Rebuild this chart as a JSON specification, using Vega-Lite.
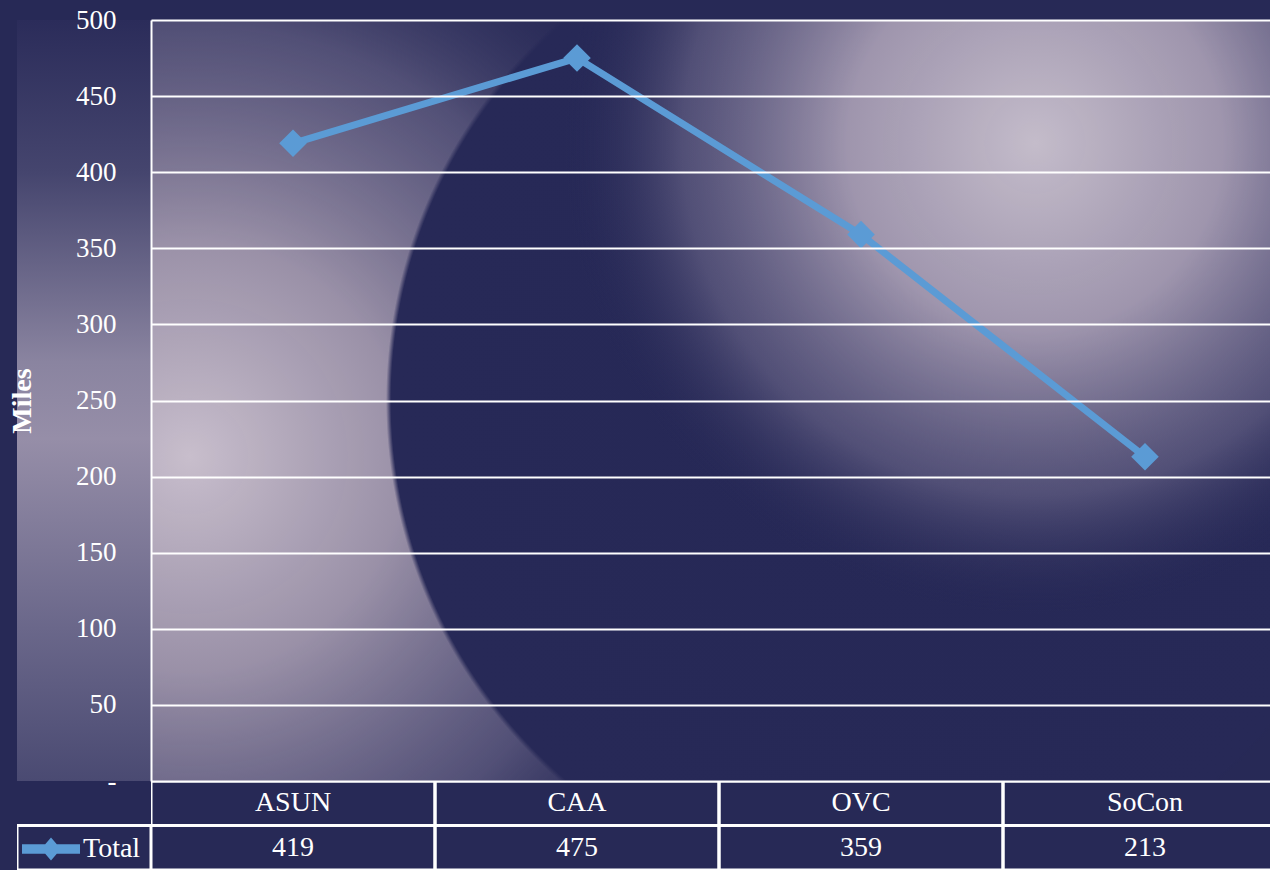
{
  "$schema": "https://vega.github.io/schema/vega-lite/v6.json",
  "background": "#272956",
  "padding": {"left": 8, "top": 6, "right": 0, "bottom": 0},
  "config": {
    "font": "Liberation Serif",
    "view": {"stroke": null},
    "concat": {"spacing": 0}
  },
  "datasets": {
    "miles": [
      {"Conference": "ASUN", "Total": 419},
      {"Conference": "CAA", "Total": 475},
      {"Conference": "OVC", "Total": 359},
      {"Conference": "SoCon", "Total": 213}
    ],
    "deco": [{"layer": "background"}]
  },
  "columns": 2,
  "spacing": 0,
  "bounds": "flush",
  "concat": [
    {
      "width": 134,
      "height": 761,
      "data": {"name": "deco"},
      "mark": {
        "type": "rect",
        "fill": {
          "gradient": "linear", "x1": 0, "y1": 0, "x2": 0, "y2": 1,
          "stops": [
            {"offset": 0, "color": "#2b2c5a"},
            {"offset": 0.2, "color": "#45456e"},
            {"offset": 0.45, "color": "#8a84a0"},
            {"offset": 0.55, "color": "#968ea8"},
            {"offset": 0.8, "color": "#6a678a"},
            {"offset": 1, "color": "#4a4a72"}
          ]
        }
      },
      "encoding": {}
    },
    {
      "width": 1119,
      "height": 761,
      "data": {"name": "miles"},
      "layer": [
        {
          "data": {"name": "deco"},
          "mark": {
            "type": "rect",
            "fill": {
              "gradient": "radial", "x1": 0.035, "y1": 0.55, "r1": 0, "x2": 0.035, "y2": 0.55, "r2": 0.55,
              "stops": [
                {"offset": 0, "color": "rgba(200,190,204,1)"},
                {"offset": 0.35, "color": "rgba(160,150,172,0.95)"},
                {"offset": 0.7, "color": "rgba(100,96,132,0.7)"},
                {"offset": 1, "color": "rgba(40,42,88,0)"}
              ]
            }
          },
          "encoding": {}
        },
        {
          "data": {"name": "deco"},
          "mark": {
            "type": "rect",
            "fill": {
              "gradient": "radial", "x1": 0.66, "y1": 0.5, "r1": 0, "x2": 0.66, "y2": 0.5, "r2": 0.45,
              "stops": [
                {"offset": 0, "color": "#262856"},
                {"offset": 0.99, "color": "#272957"},
                {"offset": 1, "color": "rgba(38,40,86,0)"}
              ]
            }
          },
          "encoding": {}
        },
        {
          "data": {"name": "deco"},
          "mark": {
            "type": "rect",
            "fill": {
              "gradient": "radial", "x1": 0.79, "y1": 0.27, "r1": 0, "x2": 0.79, "y2": 0.27, "r2": 0.42,
              "stops": [
                {"offset": 0, "color": "rgba(196,188,202,1)"},
                {"offset": 0.4, "color": "rgba(165,155,178,0.95)"},
                {"offset": 0.75, "color": "rgba(110,105,140,0.6)"},
                {"offset": 1, "color": "rgba(40,42,88,0)"}
              ]
            }
          },
          "encoding": {}
        },
        {
          "mark": {
            "type": "line",
            "strokeWidth": 7,
            "point": {"shape": "diamond", "size": 760, "filled": true, "opacity": 1}
          },
          "encoding": {
            "x": {"field": "Conference", "type": "nominal", "sort": null, "scale": {"range": [0, 1136]}, "axis": null},
            "y": {
              "field": "Total", "type": "quantitative",
              "scale": {"domain": [0, 500]},
              "axis": {
                "values": [0, 50, 100, 150, 200, 250, 300, 350, 400, 450, 500],
                "labelExpr": "datum.value == 0 ? '-' : datum.label",
                "grid": true, "gridColor": "#ffffff", "gridWidth": 2, "gridOpacity": 1,
                "domain": true, "domainColor": "#ffffff", "domainWidth": 2,
                "ticks": false, "tickSize": 0,
                "labelColor": "#ffffff", "labelFont": "Liberation Serif", "labelFontSize": 27, "labelPadding": 35,
                "title": "Miles", "titleColor": "#ffffff", "titleFont": "Liberation Serif", "titleFontSize": 28, "titleFontWeight": "bold", "titlePadding": 39,
                "zindex": 1
              }
            },
            "color": {
              "datum": "Total",
              "scale": {"range": ["#5B9BD5"]},
              "legend": {
                "orient": "none", "legendX": 5, "legendY": 800,
                "title": null, "padding": 0,
                "symbolType": "M-1,-0.16L-0.2,-0.16L0,-0.4L0.2,-0.16L1,-0.16L1,0.16L0.2,0.16L0,0.4L-0.2,0.16L-1,0.16Z",
                "symbolSize": 3364,
                "symbolFillColor": "#5B9BD5", "symbolStrokeColor": "#5B9BD5", "symbolStrokeWidth": 0,
                "labelColor": "#ffffff", "labelFont": "Liberation Serif", "labelFontSize": 28, "labelOffset": 3,
                "encode": {"symbols": {"update": {"fill": {"value": "#5B9BD5"}, "stroke": {"value": "#5B9BD5"}, "strokeWidth": {"value": 0}, "opacity": {"value": 1}}}}
              }
            }
          }
        }
      ]
    },
    {
      "width": 134,
      "height": 89,
      "data": {"values": [{"row": "Total"}]},
      "mark": {"type": "rect", "filled": false, "color": "#ffffff", "strokeWidth": 3, "clip": true},
      "encoding": {
        "y": {"field": "row", "type": "nominal", "scale": {"domain": ["Conference", "Total"]}, "axis": null}
      }
    },
    {
      "width": 1119,
      "height": 89,
      "data": {"name": "miles"},
      "transform": [{"fold": ["Conference", "Total"], "as": ["row", "cell"]}],
      "encoding": {
        "x": {"field": "Conference", "type": "nominal", "sort": null, "scale": {"range": [0, 1136]}, "axis": null},
        "y": {"field": "row", "type": "nominal", "scale": {"domain": ["Conference", "Total"]}, "axis": null}
      },
      "layer": [
        {"mark": {"type": "rect", "filled": false, "color": "#ffffff", "strokeWidth": 3, "clip": true}},
        {
          "mark": {"type": "text", "color": "#ffffff", "font": "Liberation Serif", "fontSize": 28, "align": "center", "baseline": "middle"},
          "encoding": {"text": {"field": "cell", "type": "nominal"}}
        }
      ]
    }
  ]
}
